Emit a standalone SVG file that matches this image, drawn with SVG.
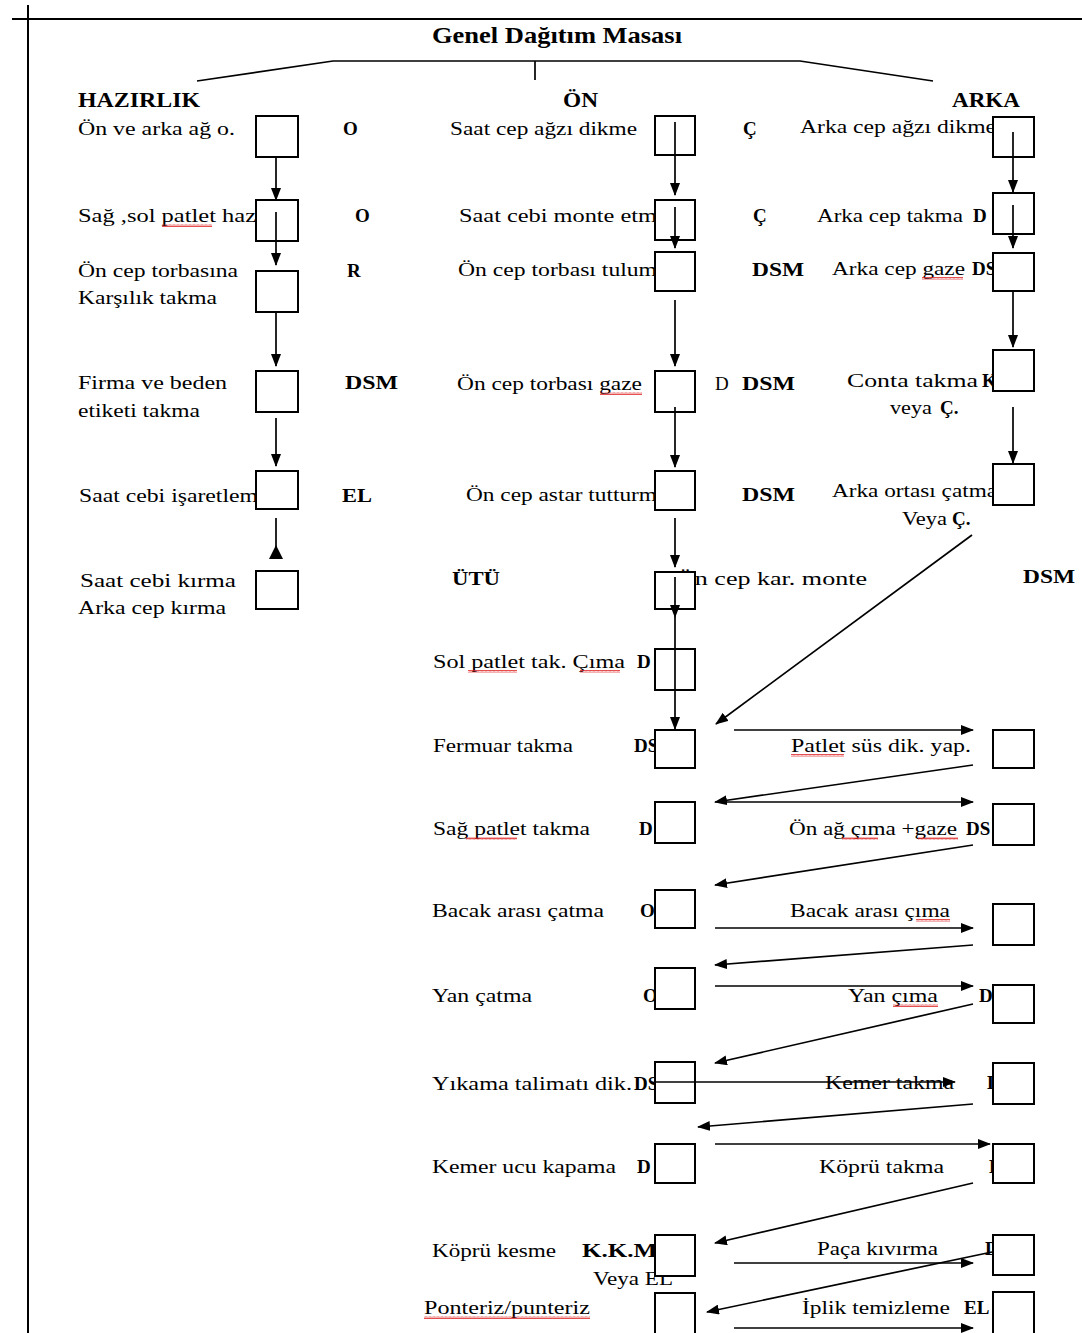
<svg xmlns="http://www.w3.org/2000/svg" width="1082" height="1333" viewBox="0 0 1082 1333">
<defs>
<style>
.t{font-family:"Liberation Serif","Times New Roman",serif;font-size:19px;fill:#000}
.b{font-weight:bold}
.h{font-family:"Liberation Serif","Times New Roman",serif;font-size:20px;font-weight:bold;fill:#000}
.ttl{font-size:23px}
.box{fill:#fff;stroke:#000;stroke-width:2}
.ln{stroke:#000;stroke-width:1.7;fill:none}
.a{marker-end:url(#ah)}
.sq{fill:url(#squig)}
</style>
<marker id="ah" markerUnits="userSpaceOnUse" markerWidth="13" markerHeight="10" refX="12" refY="5" orient="auto">
<path d="M0,0 L13,5 L0,10 Z" fill="#000"/>
</marker>
<pattern id="squig" width="4" height="3" patternUnits="userSpaceOnUse">
<path d="M0,2.5 L1,0.5 L2,2.5 L3,0.5 L4,2.5" stroke="#d22" stroke-width="0.8" fill="none"/>
</pattern>
</defs>
<rect width="1082" height="1333" fill="#fff"/>

<g id="page">
<line x1="12" y1="19" x2="1082" y2="19" stroke="#000" stroke-width="2"/>
<line x1="28" y1="5" x2="28" y2="1333" stroke="#000" stroke-width="2"/>
</g>

<g id="title">
<text class="h ttl" x="432" y="43" textLength="250" lengthAdjust="spacingAndGlyphs">Genel Dağıtım Masası</text>
</g>

<g id="headers">
<text class="h" x="78" y="107" textLength="122" lengthAdjust="spacingAndGlyphs">HAZIRLIK</text>
<text class="h" x="563" y="107" textLength="35" lengthAdjust="spacingAndGlyphs">ÖN</text>
<text class="h" x="952" y="107" textLength="68" lengthAdjust="spacingAndGlyphs">ARKA</text>
</g>

<!-- HAZIRLIK column -->
<g id="h1"><text class="t" x="78" y="135" textLength="157" lengthAdjust="spacingAndGlyphs">Ön ve arka ağ o.</text><text class="t b" x="343" y="135">O</text><rect class="box" x="256" y="116" width="42" height="41"/></g>
<g id="h2"><text class="t" x="78" y="222" textLength="178" lengthAdjust="spacingAndGlyphs">Sağ ,sol patlet haz</text><rect class="sq" x="162" y="224" width="50" height="3"/><text class="t b" x="355" y="222">O</text><rect class="box" x="256" y="200" width="42" height="41"/></g>
<g id="h3"><text class="t" x="78" y="277" textLength="160" lengthAdjust="spacingAndGlyphs">Ön cep torbasına</text><text class="t" x="78" y="304" textLength="139" lengthAdjust="spacingAndGlyphs">Karşılık takma</text><text class="t b" x="347" y="277">R</text><rect class="box" x="256" y="271" width="42" height="41"/></g>
<g id="h4"><text class="t" x="78" y="389" textLength="149" lengthAdjust="spacingAndGlyphs">Firma ve beden</text><text class="t" x="78" y="417" textLength="122" lengthAdjust="spacingAndGlyphs">etiketi takma</text><text class="t b" x="345" y="389" textLength="53" lengthAdjust="spacingAndGlyphs">DSM</text><rect class="box" x="256" y="371" width="42" height="41"/></g>
<g id="h5"><text class="t" x="79" y="502" textLength="179" lengthAdjust="spacingAndGlyphs">Saat cebi işaretlem</text><text class="t b" x="342" y="502" textLength="30" lengthAdjust="spacingAndGlyphs">EL</text><rect class="box" x="256" y="471" width="42" height="38"/></g>
<g id="h6"><text class="t" x="80" y="587" textLength="156" lengthAdjust="spacingAndGlyphs">Saat cebi kırma</text><text class="t" x="78" y="614" textLength="148" lengthAdjust="spacingAndGlyphs">Arka cep kırma</text><rect class="box" x="256" y="571" width="42" height="38"/></g>

<!-- ÖN column -->
<g id="o1"><text class="t" x="450" y="135" textLength="187" lengthAdjust="spacingAndGlyphs">Saat cep ağzı dikme</text><text class="t b" x="743" y="135">Ç</text><rect class="box" x="655" y="116" width="40" height="39"/></g>
<g id="o2"><text class="t" x="459" y="222" textLength="198" lengthAdjust="spacingAndGlyphs">Saat cebi monte etm</text><text class="t b" x="753" y="222">Ç</text><rect class="box" x="655" y="200" width="40" height="40"/></g>
<g id="o3"><text class="t" x="458" y="276" textLength="199" lengthAdjust="spacingAndGlyphs">Ön cep torbası tulum</text><text class="t b" x="752" y="276" textLength="52" lengthAdjust="spacingAndGlyphs">DSM</text><rect class="box" x="655" y="252" width="40" height="39"/></g>
<g id="o4"><text class="t" x="457" y="390" textLength="185" lengthAdjust="spacingAndGlyphs">Ön cep torbası gaze</text><rect class="sq" x="600" y="392" width="42" height="3"/><text class="t" x="715" y="390">D</text><text class="t b" x="742" y="390" textLength="53" lengthAdjust="spacingAndGlyphs">DSM</text><rect class="box" x="655" y="371" width="40" height="41"/></g>
<g id="o5"><text class="t" x="466" y="501" textLength="191" lengthAdjust="spacingAndGlyphs">Ön cep astar tutturm</text><text class="t b" x="742" y="501" textLength="53" lengthAdjust="spacingAndGlyphs">DSM</text><rect class="box" x="655" y="471" width="40" height="39"/></g>
<g id="o6"><text class="t b" x="452" y="585" textLength="48" lengthAdjust="spacingAndGlyphs">ÜTÜ</text><text class="t" x="676" y="585" textLength="191" lengthAdjust="spacingAndGlyphs">Ön cep kar. monte</text><text class="t b" x="1023" y="583" textLength="52" lengthAdjust="spacingAndGlyphs">DSM</text><rect class="box" x="655" y="572" width="40" height="37"/></g>
<g id="o7"><text class="t" x="433" y="668" textLength="192" lengthAdjust="spacingAndGlyphs">Sol patlet tak. Çıma</text><rect class="sq" x="468" y="670" width="49" height="3"/><rect class="sq" x="580" y="670" width="40" height="3"/><text class="t b" x="637" y="668">D</text><rect class="box" x="655" y="649" width="40" height="41"/></g>
<g id="o8"><text class="t" x="433" y="752" textLength="140" lengthAdjust="spacingAndGlyphs">Fermuar takma</text><text class="t b" x="634" y="752">DS</text><rect class="box" x="655" y="730" width="40" height="38"/></g>
<g id="o9"><text class="t" x="433" y="835" textLength="157" lengthAdjust="spacingAndGlyphs">Sağ patlet takma</text><rect class="sq" x="466" y="837" width="51" height="3"/><text class="t b" x="639" y="835">D</text><rect class="box" x="655" y="802" width="40" height="41"/></g>
<g id="o10"><text class="t" x="432" y="917" textLength="172" lengthAdjust="spacingAndGlyphs">Bacak arası çatma</text><text class="t b" x="640" y="917">O</text><rect class="box" x="655" y="890" width="40" height="38"/></g>
<g id="o11"><text class="t" x="432" y="1002" textLength="100" lengthAdjust="spacingAndGlyphs">Yan çatma</text><text class="t b" x="643" y="1002">O</text><rect class="box" x="655" y="968" width="40" height="41"/></g>
<g id="o12"><text class="t" x="432" y="1090" textLength="200" lengthAdjust="spacingAndGlyphs">Yıkama talimatı dik.</text><text class="t b" x="634" y="1090">DS</text><rect class="box" x="655" y="1062" width="40" height="41"/></g>
<g id="o13"><text class="t" x="432" y="1173" textLength="184" lengthAdjust="spacingAndGlyphs">Kemer ucu kapama</text><text class="t b" x="637" y="1173">D</text><rect class="box" x="655" y="1144" width="40" height="39"/></g>
<g id="o14"><text class="t" x="432" y="1257" textLength="124" lengthAdjust="spacingAndGlyphs">Köprü kesme</text><text class="t b" x="582" y="1257" textLength="75" lengthAdjust="spacingAndGlyphs">K.K.M</text><text class="t" x="593" y="1285" textLength="80" lengthAdjust="spacingAndGlyphs">Veya EL</text><rect class="box" x="655" y="1235" width="40" height="41"/></g>
<g id="o15"><text class="t" x="424" y="1314" textLength="166" lengthAdjust="spacingAndGlyphs">Ponteriz/punteriz</text><rect class="sq" x="424" y="1316" width="166" height="3"/><rect class="box" x="655" y="1293" width="40" height="45"/></g>

<!-- ARKA column -->
<g id="a1"><text class="t" x="800" y="133" textLength="196" lengthAdjust="spacingAndGlyphs">Arka cep ağzı dikme</text><rect class="box" x="993" y="117" width="41" height="40"/></g>
<g id="a2"><text class="t" x="817" y="222" textLength="146" lengthAdjust="spacingAndGlyphs">Arka cep takma</text><text class="t b" x="973" y="222">D</text><rect class="box" x="993" y="193" width="41" height="41"/></g>
<g id="a3"><text class="t" x="832" y="275" textLength="133" lengthAdjust="spacingAndGlyphs">Arka cep gaze</text><rect class="sq" x="922" y="277" width="41" height="3"/><text class="t b" x="972" y="275">DS</text><rect class="box" x="993" y="253" width="41" height="38"/></g>
<g id="a4"><text class="t" x="847" y="387" textLength="131" lengthAdjust="spacingAndGlyphs">Conta takma</text><text class="t b" x="982" y="387">K</text><text class="t" x="890" y="414" textLength="42" lengthAdjust="spacingAndGlyphs">veya</text><text class="t b" x="940" y="414">Ç.</text><rect class="box" x="993" y="350" width="41" height="41"/></g>
<g id="a5"><text class="t" x="832" y="497" textLength="165" lengthAdjust="spacingAndGlyphs">Arka ortası çatma</text><text class="t" x="902" y="525" textLength="45" lengthAdjust="spacingAndGlyphs">Veya</text><text class="t b" x="952" y="525">Ç.</text><rect class="box" x="993" y="464" width="41" height="41"/></g>
<g id="r1"><text class="t" x="791" y="752" textLength="180" lengthAdjust="spacingAndGlyphs">Patlet süs dik. yap.</text><rect class="sq" x="791" y="754" width="53" height="3"/><rect class="box" x="993" y="730" width="41" height="38"/></g>
<g id="r2"><text class="t" x="789" y="835" textLength="168" lengthAdjust="spacingAndGlyphs">Ön ağ çıma +gaze</text><rect class="sq" x="842" y="837" width="36" height="3"/><rect class="sq" x="918" y="837" width="40" height="3"/><text class="t b" x="966" y="835">DS</text><rect class="box" x="993" y="804" width="41" height="41"/></g>
<g id="r3"><text class="t" x="790" y="917" textLength="160" lengthAdjust="spacingAndGlyphs">Bacak arası çıma</text><rect class="sq" x="916" y="919" width="34" height="3"/><rect class="box" x="993" y="904" width="41" height="41"/></g>
<g id="r4"><text class="t" x="848" y="1002" textLength="90" lengthAdjust="spacingAndGlyphs">Yan çıma</text><rect class="sq" x="893" y="1004" width="45" height="3"/><text class="t b" x="979" y="1002">D</text><rect class="box" x="993" y="985" width="41" height="38"/></g>
<g id="r5"><text class="t" x="825" y="1089" textLength="129" lengthAdjust="spacingAndGlyphs">Kemer takma</text><text class="t b" x="987" y="1089">D</text><rect class="box" x="993" y="1063" width="41" height="41"/></g>
<g id="r6"><text class="t" x="819" y="1173" textLength="125" lengthAdjust="spacingAndGlyphs">Köprü takma</text><text class="t b" x="989" y="1173">D</text><rect class="box" x="993" y="1144" width="41" height="39"/></g>
<g id="r7"><text class="t" x="817" y="1255" textLength="121" lengthAdjust="spacingAndGlyphs">Paça kıvırma</text><text class="t b" x="985" y="1255">D</text><rect class="box" x="993" y="1235" width="41" height="40"/></g>
<g id="r8"><text class="t" x="802" y="1314" textLength="148" lengthAdjust="spacingAndGlyphs">İplik temizleme</text><text class="t b" x="964" y="1314">EL</text><rect class="box" x="993" y="1292" width="41" height="45"/></g>

<g id="connectors">
<polyline class="ln" points="197,81 333,61 800,61 933,81" stroke-width="2"/>
<line class="ln" x1="535" y1="61" x2="535" y2="80"/>
<!-- HAZIRLIK -->
<line class="ln a" x1="276" y1="157" x2="276" y2="200"/>
<line class="ln a" x1="276" y1="212" x2="276" y2="265"/>
<line class="ln a" x1="276" y1="312" x2="276" y2="366"/>
<line class="ln a" x1="276" y1="418" x2="276" y2="466"/>
<line class="ln" x1="276" y1="518" x2="276" y2="558"/>
<polygon points="269,559 283,559 276,545" fill="#000"/>
<!-- ÖN -->
<line class="ln a" x1="675" y1="122" x2="675" y2="195"/>
<line class="ln a" x1="675" y1="207" x2="675" y2="248"/>
<line class="ln a" x1="675" y1="300" x2="675" y2="366"/>
<line class="ln a" x1="675" y1="407" x2="675" y2="467"/>
<line class="ln a" x1="675" y1="518" x2="675" y2="567"/>
<line class="ln a" x1="675" y1="577" x2="675" y2="617"/>
<line class="ln a" x1="675" y1="617" x2="675" y2="729"/>
<!-- ARKA -->
<line class="ln a" x1="1013" y1="132" x2="1013" y2="192"/>
<line class="ln a" x1="1013" y1="205" x2="1013" y2="248"/>
<line class="ln a" x1="1013" y1="292" x2="1013" y2="347"/>
<line class="ln a" x1="1013" y1="407" x2="1013" y2="463"/>
<line class="ln a" x1="972" y1="535" x2="716" y2="724"/>
<!-- assembly zigzag -->
<line class="ln a" x1="734" y1="730" x2="973" y2="730"/>
<line class="ln a" x1="973" y1="765" x2="715" y2="802"/>
<line class="ln a" x1="720" y1="802" x2="973" y2="802"/>
<line class="ln a" x1="973" y1="845" x2="715" y2="885"/>
<line class="ln a" x1="715" y1="928" x2="973" y2="928"/>
<line class="ln a" x1="973" y1="945" x2="715" y2="965"/>
<line class="ln a" x1="715" y1="986" x2="973" y2="986"/>
<line class="ln a" x1="973" y1="1004" x2="715" y2="1063"/>
<line class="ln a" x1="656" y1="1082" x2="955" y2="1082"/>
<line class="ln a" x1="973" y1="1104" x2="698" y2="1127"/>
<line class="ln a" x1="715" y1="1144" x2="990" y2="1144"/>
<line class="ln a" x1="973" y1="1183" x2="715" y2="1243"/>
<line class="ln a" x1="734" y1="1263" x2="973" y2="1263"/>
<line class="ln a" x1="992" y1="1252" x2="707" y2="1312"/>
<line class="ln a" x1="734" y1="1328" x2="973" y2="1328"/>
</g>
</svg>
